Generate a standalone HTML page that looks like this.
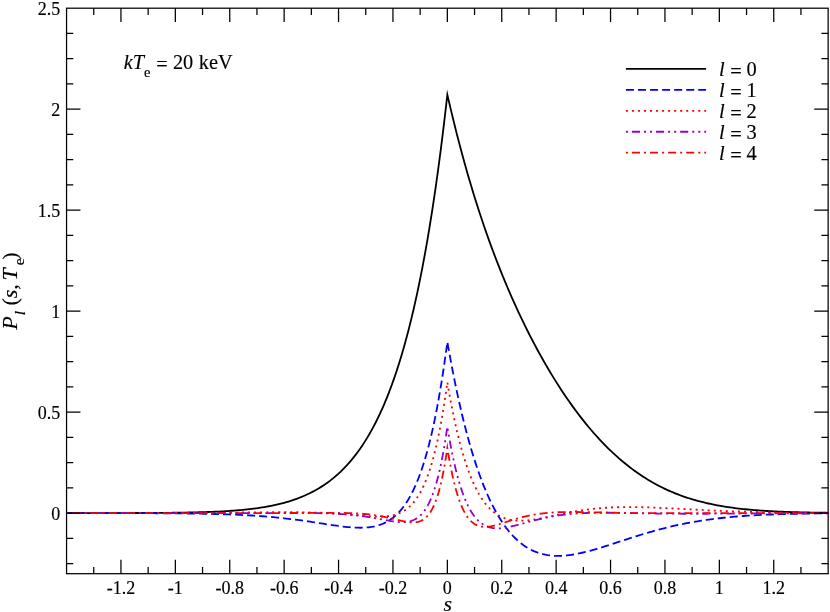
<!DOCTYPE html><html><head><meta charset="utf-8"><title>P_l(s,Te)</title><style>html,body{margin:0;padding:0;background:#fff}svg{display:block;will-change:transform}text{font-family:"Liberation Serif",serif;fill:#000;stroke:#000;stroke-width:0.15px}</style></head><body>
<svg width="830" height="612" viewBox="0 0 830 612">
<rect width="830" height="612" fill="#fff"/>
<g fill="none" stroke-width="1.8" stroke-linejoin="miter" stroke-miterlimit="10">
<path class="c0" d="M66.55,513.10 L68.73,513.09 L70.90,513.09 L73.08,513.09 L75.25,513.09 L77.43,513.09 L79.61,513.09 L81.78,513.09 L83.96,513.09 L86.13,513.09 L88.31,513.09 L90.49,513.09 L92.66,513.09 L94.84,513.08 L97.01,513.08 L99.19,513.08 L101.37,513.08 L103.54,513.08 L105.72,513.07 L107.89,513.07 L110.07,513.07 L112.25,513.07 L114.42,513.06 L116.60,513.06 L118.77,513.06 L120.95,513.05 L123.13,513.05 L125.30,513.04 L127.48,513.04 L129.65,513.03 L131.83,513.03 L134.01,513.02 L136.18,513.01 L138.36,513.01 L140.53,513.00 L142.71,512.99 L144.89,512.98 L147.06,512.97 L149.24,512.96 L151.41,512.95 L153.59,512.93 L155.77,512.92 L157.94,512.90 L160.12,512.89 L162.29,512.87 L164.47,512.85 L166.65,512.83 L168.82,512.81 L171.00,512.78 L173.17,512.76 L175.35,512.73 L177.53,512.70 L179.70,512.67 L181.88,512.64 L184.05,512.60 L186.23,512.56 L188.41,512.52 L190.58,512.48 L192.76,512.43 L194.93,512.38 L197.11,512.32 L199.29,512.26 L201.46,512.20 L203.64,512.14 L205.81,512.06 L207.99,511.99 L210.17,511.91 L212.34,511.82 L214.52,511.73 L216.69,511.63 L218.87,511.53 L221.05,511.42 L223.22,511.30 L225.40,511.17 L227.57,511.04 L229.75,510.90 L231.93,510.75 L234.10,510.59 L236.28,510.42 L238.45,510.24 L240.63,510.05 L242.81,509.84 L244.98,509.63 L247.16,509.40 L249.33,509.16 L251.51,508.90 L253.69,508.63 L255.86,508.34 L258.04,508.04 L260.21,507.72 L262.39,507.38 L264.57,507.03 L266.74,506.65 L268.92,506.25 L271.09,505.83 L273.27,505.38 L275.45,504.92 L277.62,504.42 L279.80,503.90 L281.97,503.35 L284.15,502.77 L286.33,502.16 L288.50,501.52 L290.68,500.85 L292.85,500.14 L295.03,499.39 L297.21,498.61 L299.38,497.78 L301.56,496.92 L303.73,496.01 L305.91,495.05 L308.09,494.04 L310.26,492.99 L312.44,491.88 L314.61,490.72 L316.79,489.50 L318.97,488.22 L321.14,486.88 L323.32,485.48 L325.49,484.01 L327.67,482.46 L329.85,480.85 L332.02,479.15 L334.20,477.38 L336.37,475.52 L338.55,473.58 L340.73,471.54 L342.90,469.41 L345.08,467.18 L347.25,464.85 L349.43,462.41 L351.61,459.86 L353.78,457.19 L355.96,454.39 L358.13,451.47 L360.31,448.41 L362.49,445.22 L364.66,441.88 L366.84,438.38 L369.01,434.73 L371.19,430.91 L373.37,426.91 L375.54,422.74 L377.72,418.37 L379.89,413.81 L380.98,411.44 L382.07,409.03 L383.16,406.56 L384.25,404.04 L385.33,401.46 L386.42,398.82 L387.51,396.12 L388.60,393.36 L389.69,390.54 L390.77,387.65 L391.86,384.70 L392.95,381.68 L394.04,378.59 L395.13,375.43 L396.21,372.20 L397.30,368.90 L398.39,365.52 L399.48,362.06 L400.57,358.53 L401.65,354.91 L402.74,351.21 L403.83,347.43 L404.92,343.56 L406.01,339.59 L407.09,335.54 L408.18,331.40 L409.27,327.15 L410.36,322.81 L411.45,318.37 L412.53,313.83 L413.62,309.18 L414.71,304.42 L415.80,299.55 L416.89,294.57 L417.97,289.46 L419.06,284.24 L420.15,278.90 L421.24,273.43 L422.33,267.83 L423.41,262.10 L424.50,256.23 L425.59,250.23 L426.68,244.08 L427.77,237.78 L428.85,231.33 L429.94,224.73 L431.03,217.97 L432.12,211.05 L433.21,203.96 L434.29,196.70 L435.38,189.26 L436.47,181.65 L437.56,173.85 L438.65,165.86 L439.73,157.67 L440.82,149.29 L441.91,140.70 L443.00,131.90 L444.09,122.88 L445.17,113.64 L446.26,104.33 L447.35,94.78 L448.44,99.39 L449.53,103.94 L450.61,108.58 L451.70,113.15 L452.79,117.67 L453.88,122.13 L454.97,126.53 L456.05,130.87 L457.14,135.16 L458.23,139.39 L459.32,143.57 L460.41,147.69 L461.49,151.77 L462.58,155.79 L463.67,159.77 L464.76,163.69 L465.85,167.57 L466.93,171.40 L468.02,175.18 L469.11,178.92 L470.20,182.61 L471.29,186.27 L472.37,189.87 L473.46,193.44 L474.55,196.96 L475.64,200.45 L476.73,203.89 L477.81,207.30 L478.90,210.66 L479.99,213.99 L481.08,217.28 L482.17,220.54 L483.25,223.76 L484.34,226.95 L485.43,230.10 L486.52,233.22 L487.61,236.30 L488.69,239.35 L489.78,242.37 L490.87,245.36 L491.96,248.32 L493.05,251.25 L494.13,254.14 L495.22,257.01 L496.31,259.85 L497.40,262.66 L498.49,265.45 L499.57,268.20 L500.66,270.93 L501.75,273.64 L502.84,276.31 L503.93,278.96 L505.01,281.59 L506.10,284.19 L507.19,286.77 L508.28,289.32 L509.37,291.85 L510.45,294.35 L511.54,296.84 L512.63,299.30 L513.72,301.73 L514.81,304.15 L516.98,308.92 L519.16,313.60 L521.33,318.20 L523.51,322.71 L525.69,327.15 L527.86,331.51 L530.04,335.80 L532.21,340.02 L534.39,344.16 L536.57,348.23 L538.74,352.23 L540.92,356.17 L543.09,360.03 L545.27,363.84 L547.45,367.57 L549.62,371.25 L551.80,374.86 L553.97,378.40 L556.15,381.89 L558.33,385.31 L560.50,388.68 L562.68,391.98 L564.85,395.23 L567.03,398.42 L569.21,401.55 L571.38,404.62 L573.56,407.64 L575.73,410.60 L577.91,413.50 L580.09,416.35 L582.26,419.15 L584.44,421.88 L586.61,424.57 L588.79,427.20 L590.97,429.78 L593.14,432.30 L595.32,434.77 L597.49,437.19 L599.67,439.56 L601.85,441.87 L604.02,444.14 L606.20,446.35 L608.37,448.52 L610.55,450.63 L612.73,452.69 L614.90,454.71 L617.08,456.68 L619.25,458.60 L621.43,460.47 L623.61,462.29 L625.78,464.07 L627.96,465.80 L630.13,467.49 L632.31,469.13 L634.49,470.73 L636.66,472.29 L638.84,473.80 L641.01,475.27 L643.19,476.70 L645.37,478.09 L647.54,479.43 L649.72,480.74 L651.89,482.01 L654.07,483.24 L656.25,484.43 L658.42,485.58 L660.60,486.70 L662.77,487.78 L664.95,488.83 L667.13,489.84 L669.30,490.82 L671.48,491.77 L673.65,492.68 L675.83,493.56 L678.01,494.41 L680.18,495.24 L682.36,496.03 L684.53,496.79 L686.71,497.53 L688.89,498.24 L691.06,498.92 L693.24,499.57 L695.41,500.21 L697.59,500.81 L699.77,501.40 L701.94,501.96 L704.12,502.49 L706.29,503.01 L708.47,503.50 L710.65,503.98 L712.82,504.43 L715.00,504.87 L717.17,505.28 L719.35,505.68 L721.53,506.06 L723.70,506.43 L725.88,506.78 L728.05,507.11 L730.23,507.43 L732.41,507.73 L734.58,508.02 L736.76,508.30 L738.93,508.56 L741.11,508.81 L743.29,509.05 L745.46,509.27 L747.64,509.49 L749.81,509.69 L751.99,509.89 L754.17,510.07 L756.34,510.25 L758.52,510.42 L760.69,510.57 L762.87,510.72 L765.05,510.87 L767.22,511.00 L769.40,511.13 L771.57,511.25 L773.75,511.36 L775.93,511.47 L778.10,511.57 L780.28,511.67 L782.45,511.76 L784.63,511.84 L786.81,511.92 L788.98,512.00 L791.16,512.07 L793.33,512.14 L795.51,512.20 L797.69,512.26 L799.86,512.32 L802.04,512.37 L804.21,512.42 L806.39,512.46 L808.57,512.51 L810.74,512.55 L812.92,512.59 L815.09,512.62 L817.27,512.66 L819.45,512.69 L821.62,512.72 L823.80,512.74 L825.97,512.77 L828.15,512.79" stroke="#000000" />
<path class="c1" d="M66.55,513.10 L68.73,513.10 L70.90,513.10 L73.08,513.10 L75.25,513.11 L77.43,513.11 L79.61,513.11 L81.78,513.11 L83.96,513.11 L86.13,513.11 L88.31,513.11 L90.49,513.11 L92.66,513.11 L94.84,513.11 L97.01,513.11 L99.19,513.11 L101.37,513.12 L103.54,513.12 L105.72,513.12 L107.89,513.12 L110.07,513.12 L112.25,513.13 L114.42,513.13 L116.60,513.13 L118.77,513.13 L120.95,513.14 L123.13,513.14 L125.30,513.14 L127.48,513.15 L129.65,513.15 L131.83,513.15 L134.01,513.16 L136.18,513.16 L138.36,513.17 L140.53,513.17 L142.71,513.18 L144.89,513.19 L147.06,513.20 L149.24,513.20 L151.41,513.21 L153.59,513.22 L155.77,513.23 L157.94,513.24 L160.12,513.25 L162.29,513.26 L164.47,513.28 L166.65,513.29 L168.82,513.30 L171.00,513.32 L173.17,513.34 L175.35,513.36 L177.53,513.37 L179.70,513.40 L181.88,513.42 L184.05,513.44 L186.23,513.47 L188.41,513.49 L190.58,513.52 L192.76,513.55 L194.93,513.58 L197.11,513.62 L199.29,513.65 L201.46,513.69 L203.64,513.73 L205.81,513.78 L207.99,513.82 L210.17,513.87 L212.34,513.92 L214.52,513.98 L216.69,514.03 L218.87,514.10 L221.05,514.16 L223.22,514.23 L225.40,514.30 L227.57,514.38 L229.75,514.46 L231.93,514.54 L234.10,514.63 L236.28,514.72 L238.45,514.82 L240.63,514.92 L242.81,515.03 L244.98,515.15 L247.16,515.27 L249.33,515.39 L251.51,515.52 L253.69,515.66 L255.86,515.80 L258.04,515.95 L260.21,516.11 L262.39,516.27 L264.57,516.44 L266.74,516.62 L268.92,516.80 L271.09,516.99 L273.27,517.19 L275.45,517.40 L277.62,517.61 L279.80,517.83 L281.97,518.06 L284.15,518.30 L286.33,518.55 L288.50,518.80 L290.68,519.06 L292.85,519.33 L295.03,519.60 L297.21,519.89 L299.38,520.18 L301.56,520.48 L303.73,520.78 L305.91,521.09 L308.09,521.41 L310.26,521.73 L312.44,522.05 L314.61,522.38 L316.79,522.72 L318.97,523.05 L321.14,523.39 L323.32,523.73 L325.49,524.06 L327.67,524.40 L329.85,524.73 L332.02,525.05 L334.20,525.37 L336.37,525.68 L338.55,525.98 L340.73,526.27 L342.90,526.54 L345.08,526.79 L347.25,527.02 L349.43,527.22 L351.61,527.40 L353.78,527.54 L355.96,527.65 L358.13,527.71 L360.31,527.73 L362.49,527.70 L364.66,527.62 L366.84,527.47 L369.01,527.24 L371.19,526.95 L373.37,526.56 L375.54,526.09 L377.72,525.51 L379.89,524.82 L380.98,524.43 L382.07,524.01 L383.16,523.56 L384.25,523.07 L385.33,522.54 L386.42,521.98 L387.51,521.37 L388.60,520.73 L389.69,520.04 L390.77,519.31 L391.86,518.53 L392.95,517.70 L394.04,516.82 L395.13,515.89 L396.21,514.90 L397.30,513.86 L398.39,512.76 L399.48,511.59 L400.57,510.36 L401.65,509.07 L402.74,507.70 L403.83,506.26 L404.92,504.75 L406.01,503.16 L407.09,501.48 L408.18,499.73 L409.27,497.88 L410.36,495.94 L411.45,493.91 L412.53,491.78 L413.62,489.55 L414.71,487.21 L415.80,484.76 L416.89,482.20 L417.97,479.52 L419.06,476.72 L420.15,473.79 L421.24,470.73 L422.33,467.53 L423.41,464.18 L424.50,460.69 L425.59,457.05 L426.68,453.25 L427.77,449.28 L428.85,445.15 L429.94,440.83 L431.03,436.34 L432.12,431.65 L433.21,426.77 L434.29,421.69 L435.38,416.39 L436.47,410.87 L437.56,405.13 L438.65,399.16 L439.73,392.94 L440.82,386.47 L441.91,379.74 L443.00,372.74 L444.09,365.46 L445.17,357.89 L446.26,350.03 L447.35,341.85 L448.44,348.06 L449.53,354.12 L450.61,360.05 L451.70,365.84 L452.79,371.49 L453.88,377.02 L454.97,382.41 L456.05,387.68 L457.14,392.82 L458.23,397.84 L459.32,402.74 L460.41,407.53 L461.49,412.20 L462.58,416.75 L463.67,421.20 L464.76,425.54 L465.85,429.77 L466.93,433.90 L468.02,437.92 L469.11,441.85 L470.20,445.67 L471.29,449.40 L472.37,453.04 L473.46,456.58 L474.55,460.03 L475.64,463.40 L476.73,466.67 L477.81,469.86 L478.90,472.97 L479.99,475.99 L481.08,478.94 L482.17,481.80 L483.25,484.59 L484.34,487.30 L485.43,489.94 L486.52,492.50 L487.61,494.99 L488.69,497.41 L489.78,499.76 L490.87,502.05 L491.96,504.27 L493.05,506.42 L494.13,508.51 L495.22,510.54 L496.31,512.51 L497.40,514.42 L498.49,516.27 L499.57,518.06 L500.66,519.80 L501.75,521.48 L502.84,523.11 L503.93,524.68 L505.01,526.21 L506.10,527.68 L507.19,529.11 L508.28,530.48 L509.37,531.81 L510.45,533.09 L511.54,534.32 L512.63,535.52 L513.72,536.66 L514.81,537.77 L516.98,539.85 L519.16,541.78 L521.33,543.55 L523.51,545.18 L525.69,546.66 L527.86,548.01 L530.04,549.24 L532.21,550.34 L534.39,551.32 L536.57,552.20 L538.74,552.96 L540.92,553.63 L543.09,554.20 L545.27,554.68 L547.45,555.07 L549.62,555.38 L551.80,555.62 L553.97,555.78 L556.15,555.86 L558.33,555.89 L560.50,555.85 L562.68,555.75 L564.85,555.59 L567.03,555.39 L569.21,555.13 L571.38,554.83 L573.56,554.49 L575.73,554.11 L577.91,553.69 L580.09,553.23 L582.26,552.75 L584.44,552.23 L586.61,551.69 L588.79,551.13 L590.97,550.54 L593.14,549.93 L595.32,549.30 L597.49,548.66 L599.67,548.00 L601.85,547.33 L604.02,546.65 L606.20,545.96 L608.37,545.27 L610.55,544.56 L612.73,543.86 L614.90,543.14 L617.08,542.43 L619.25,541.72 L621.43,541.00 L623.61,540.29 L625.78,539.58 L627.96,538.87 L630.13,538.17 L632.31,537.48 L634.49,536.78 L636.66,536.10 L638.84,535.42 L641.01,534.75 L643.19,534.09 L645.37,533.44 L647.54,532.80 L649.72,532.17 L651.89,531.55 L654.07,530.93 L656.25,530.34 L658.42,529.75 L660.60,529.17 L662.77,528.61 L664.95,528.05 L667.13,527.51 L669.30,526.99 L671.48,526.47 L673.65,525.97 L675.83,525.48 L678.01,525.00 L680.18,524.54 L682.36,524.09 L684.53,523.65 L686.71,523.22 L688.89,522.81 L691.06,522.40 L693.24,522.01 L695.41,521.64 L697.59,521.27 L699.77,520.92 L701.94,520.58 L704.12,520.24 L706.29,519.93 L708.47,519.62 L710.65,519.32 L712.82,519.03 L715.00,518.76 L717.17,518.49 L719.35,518.24 L721.53,517.99 L723.70,517.75 L725.88,517.52 L728.05,517.31 L730.23,517.10 L732.41,516.90 L734.58,516.70 L736.76,516.52 L738.93,516.34 L741.11,516.17 L743.29,516.01 L745.46,515.86 L747.64,515.71 L749.81,515.57 L751.99,515.43 L754.17,515.31 L756.34,515.18 L758.52,515.07 L760.69,514.96 L762.87,514.85 L765.05,514.75 L767.22,514.66 L769.40,514.57 L771.57,514.48 L773.75,514.40 L775.93,514.32 L778.10,514.25 L780.28,514.18 L782.45,514.11 L784.63,514.05 L786.81,513.99 L788.98,513.94 L791.16,513.88 L793.33,513.83 L795.51,513.79 L797.69,513.74 L799.86,513.70 L802.04,513.66 L804.21,513.63 L806.39,513.59 L808.57,513.56 L810.74,513.53 L812.92,513.50 L815.09,513.47 L817.27,513.45 L819.45,513.42 L821.62,513.40 L823.80,513.38 L825.97,513.36 L828.15,513.34" stroke="#0000ff" stroke-dasharray="8.026 4.013" stroke-dashoffset="0"/>
<path class="c2" d="M66.55,513.10 L68.73,513.10 L70.90,513.10 L73.08,513.10 L75.25,513.10 L77.43,513.10 L79.61,513.10 L81.78,513.10 L83.96,513.10 L86.13,513.09 L88.31,513.09 L90.49,513.09 L92.66,513.09 L94.84,513.09 L97.01,513.09 L99.19,513.09 L101.37,513.09 L103.54,513.09 L105.72,513.09 L107.89,513.09 L110.07,513.09 L112.25,513.09 L114.42,513.08 L116.60,513.08 L118.77,513.08 L120.95,513.08 L123.13,513.08 L125.30,513.08 L127.48,513.08 L129.65,513.07 L131.83,513.07 L134.01,513.07 L136.18,513.07 L138.36,513.06 L140.53,513.06 L142.71,513.06 L144.89,513.06 L147.06,513.05 L149.24,513.05 L151.41,513.04 L153.59,513.04 L155.77,513.04 L157.94,513.03 L160.12,513.03 L162.29,513.02 L164.47,513.02 L166.65,513.01 L168.82,513.00 L171.00,513.00 L173.17,512.99 L175.35,512.98 L177.53,512.98 L179.70,512.97 L181.88,512.96 L184.05,512.95 L186.23,512.94 L188.41,512.93 L190.58,512.92 L192.76,512.91 L194.93,512.90 L197.11,512.89 L199.29,512.88 L201.46,512.86 L203.64,512.85 L205.81,512.83 L207.99,512.82 L210.17,512.80 L212.34,512.79 L214.52,512.77 L216.69,512.76 L218.87,512.74 L221.05,512.72 L223.22,512.70 L225.40,512.68 L227.57,512.66 L229.75,512.64 L231.93,512.62 L234.10,512.60 L236.28,512.58 L238.45,512.56 L240.63,512.54 L242.81,512.51 L244.98,512.49 L247.16,512.47 L249.33,512.45 L251.51,512.42 L253.69,512.40 L255.86,512.38 L258.04,512.36 L260.21,512.34 L262.39,512.32 L264.57,512.30 L266.74,512.28 L268.92,512.26 L271.09,512.24 L273.27,512.23 L275.45,512.21 L277.62,512.20 L279.80,512.19 L281.97,512.18 L284.15,512.18 L286.33,512.18 L288.50,512.18 L290.68,512.18 L292.85,512.19 L295.03,512.20 L297.21,512.21 L299.38,512.23 L301.56,512.26 L303.73,512.29 L305.91,512.33 L308.09,512.37 L310.26,512.42 L312.44,512.47 L314.61,512.53 L316.79,512.60 L318.97,512.67 L321.14,512.76 L323.32,512.85 L325.49,512.95 L327.67,513.05 L329.85,513.17 L332.02,513.30 L334.20,513.43 L336.37,513.57 L338.55,513.72 L340.73,513.88 L342.90,514.04 L345.08,514.21 L347.25,514.39 L349.43,514.57 L351.61,514.76 L353.78,514.95 L355.96,515.15 L358.13,515.34 L360.31,515.53 L362.49,515.71 L364.66,515.89 L366.84,516.06 L369.01,516.21 L371.19,516.35 L373.37,516.46 L375.54,516.54 L377.72,516.59 L379.89,516.60 L380.98,516.58 L382.07,516.56 L383.16,516.51 L384.25,516.46 L385.33,516.38 L386.42,516.29 L387.51,516.17 L388.60,516.04 L389.69,515.88 L390.77,515.70 L391.86,515.50 L392.95,515.26 L394.04,515.00 L395.13,514.71 L396.21,514.38 L397.30,514.01 L398.39,513.61 L399.48,513.17 L400.57,512.68 L401.65,512.15 L402.74,511.57 L403.83,510.93 L404.92,510.24 L406.01,509.50 L407.09,508.69 L408.18,507.82 L409.27,506.88 L410.36,505.86 L411.45,504.77 L412.53,503.60 L413.62,502.34 L414.71,500.99 L415.80,499.54 L416.89,498.00 L417.97,496.34 L419.06,494.58 L420.15,492.69 L421.24,490.68 L422.33,488.54 L423.41,486.26 L424.50,483.84 L425.59,481.26 L426.68,478.52 L427.77,475.61 L428.85,472.53 L429.94,469.25 L431.03,465.78 L432.12,462.11 L433.21,458.21 L434.29,454.09 L435.38,449.73 L436.47,445.12 L437.56,440.25 L438.65,435.10 L439.73,429.67 L440.82,423.93 L441.91,417.87 L443.00,411.48 L444.09,404.74 L445.17,397.64 L446.26,390.15 L447.35,382.27 L448.44,388.67 L449.53,394.83 L450.61,400.77 L451.70,406.48 L452.79,411.98 L453.88,417.27 L454.97,422.36 L456.05,427.25 L457.14,431.94 L458.23,436.46 L459.32,440.79 L460.41,444.95 L461.49,448.95 L462.58,452.78 L463.67,456.45 L464.76,459.97 L465.85,463.34 L466.93,466.57 L468.02,469.66 L469.11,472.62 L470.20,475.45 L471.29,478.15 L472.37,480.73 L473.46,483.20 L474.55,485.55 L475.64,487.79 L476.73,489.93 L477.81,491.96 L478.90,493.90 L479.99,495.74 L481.08,497.49 L482.17,499.15 L483.25,500.72 L484.34,502.22 L485.43,503.63 L486.52,504.96 L487.61,506.23 L488.69,507.42 L489.78,508.54 L490.87,509.60 L491.96,510.59 L493.05,511.52 L494.13,512.39 L495.22,513.21 L496.31,513.97 L497.40,514.68 L498.49,515.34 L499.57,515.96 L500.66,516.52 L501.75,517.04 L502.84,517.52 L503.93,517.96 L505.01,518.36 L506.10,518.72 L507.19,519.05 L508.28,519.34 L509.37,519.60 L510.45,519.83 L511.54,520.03 L512.63,520.20 L513.72,520.34 L514.81,520.46 L516.98,520.63 L519.16,520.70 L521.33,520.70 L523.51,520.63 L525.69,520.49 L527.86,520.29 L530.04,520.05 L532.21,519.77 L534.39,519.44 L536.57,519.09 L538.74,518.70 L540.92,518.30 L543.09,517.88 L545.27,517.44 L547.45,516.99 L549.62,516.54 L551.80,516.08 L553.97,515.61 L556.15,515.15 L558.33,514.69 L560.50,514.24 L562.68,513.80 L564.85,513.36 L567.03,512.93 L569.21,512.52 L571.38,512.11 L573.56,511.72 L575.73,511.34 L577.91,510.98 L580.09,510.64 L582.26,510.31 L584.44,509.99 L586.61,509.70 L588.79,509.42 L590.97,509.15 L593.14,508.91 L595.32,508.68 L597.49,508.46 L599.67,508.27 L601.85,508.09 L604.02,507.92 L606.20,507.77 L608.37,507.64 L610.55,507.52 L612.73,507.42 L614.90,507.33 L617.08,507.25 L619.25,507.19 L621.43,507.14 L623.61,507.11 L625.78,507.08 L627.96,507.07 L630.13,507.06 L632.31,507.07 L634.49,507.09 L636.66,507.11 L638.84,507.15 L641.01,507.19 L643.19,507.24 L645.37,507.30 L647.54,507.36 L649.72,507.43 L651.89,507.51 L654.07,507.59 L656.25,507.68 L658.42,507.77 L660.60,507.87 L662.77,507.96 L664.95,508.07 L667.13,508.17 L669.30,508.28 L671.48,508.38 L673.65,508.50 L675.83,508.61 L678.01,508.72 L680.18,508.83 L682.36,508.95 L684.53,509.06 L686.71,509.18 L688.89,509.29 L691.06,509.41 L693.24,509.52 L695.41,509.63 L697.59,509.74 L699.77,509.85 L701.94,509.96 L704.12,510.07 L706.29,510.17 L708.47,510.28 L710.65,510.38 L712.82,510.48 L715.00,510.58 L717.17,510.68 L719.35,510.77 L721.53,510.86 L723.70,510.95 L725.88,511.04 L728.05,511.13 L730.23,511.21 L732.41,511.29 L734.58,511.37 L736.76,511.44 L738.93,511.52 L741.11,511.59 L743.29,511.66 L745.46,511.72 L747.64,511.79 L749.81,511.85 L751.99,511.91 L754.17,511.97 L756.34,512.02 L758.52,512.08 L760.69,512.13 L762.87,512.18 L765.05,512.23 L767.22,512.27 L769.40,512.31 L771.57,512.36 L773.75,512.40 L775.93,512.43 L778.10,512.47 L780.28,512.50 L782.45,512.54 L784.63,512.57 L786.81,512.60 L788.98,512.63 L791.16,512.66 L793.33,512.68 L795.51,512.71 L797.69,512.73 L799.86,512.75 L802.04,512.77 L804.21,512.79 L806.39,512.81 L808.57,512.83 L810.74,512.85 L812.92,512.86 L815.09,512.88 L817.27,512.89 L819.45,512.91 L821.62,512.92 L823.80,512.93 L825.97,512.94 L828.15,512.95" stroke="#ff0000" stroke-dasharray="2.016 4.032" stroke-dashoffset="0"/>
<path class="c3" d="M66.55,513.10 L68.73,513.10 L70.90,513.10 L73.08,513.10 L75.25,513.10 L77.43,513.10 L79.61,513.10 L81.78,513.10 L83.96,513.10 L86.13,513.10 L88.31,513.10 L90.49,513.10 L92.66,513.10 L94.84,513.10 L97.01,513.10 L99.19,513.10 L101.37,513.10 L103.54,513.10 L105.72,513.10 L107.89,513.10 L110.07,513.10 L112.25,513.11 L114.42,513.11 L116.60,513.11 L118.77,513.11 L120.95,513.11 L123.13,513.11 L125.30,513.11 L127.48,513.11 L129.65,513.11 L131.83,513.11 L134.01,513.11 L136.18,513.11 L138.36,513.11 L140.53,513.11 L142.71,513.11 L144.89,513.11 L147.06,513.11 L149.24,513.12 L151.41,513.12 L153.59,513.12 L155.77,513.12 L157.94,513.12 L160.12,513.12 L162.29,513.12 L164.47,513.12 L166.65,513.12 L168.82,513.13 L171.00,513.13 L173.17,513.13 L175.35,513.13 L177.53,513.13 L179.70,513.13 L181.88,513.13 L184.05,513.13 L186.23,513.13 L188.41,513.14 L190.58,513.14 L192.76,513.14 L194.93,513.14 L197.11,513.14 L199.29,513.14 L201.46,513.14 L203.64,513.14 L205.81,513.14 L207.99,513.15 L210.17,513.15 L212.34,513.15 L214.52,513.15 L216.69,513.15 L218.87,513.15 L221.05,513.15 L223.22,513.15 L225.40,513.15 L227.57,513.15 L229.75,513.15 L231.93,513.14 L234.10,513.14 L236.28,513.14 L238.45,513.14 L240.63,513.14 L242.81,513.14 L244.98,513.13 L247.16,513.13 L249.33,513.13 L251.51,513.12 L253.69,513.12 L255.86,513.11 L258.04,513.11 L260.21,513.10 L262.39,513.10 L264.57,513.09 L266.74,513.09 L268.92,513.08 L271.09,513.08 L273.27,513.07 L275.45,513.07 L277.62,513.06 L279.80,513.05 L281.97,513.05 L284.15,513.04 L286.33,513.04 L288.50,513.04 L290.68,513.03 L292.85,513.03 L295.03,513.03 L297.21,513.04 L299.38,513.04 L301.56,513.05 L303.73,513.05 L305.91,513.06 L308.09,513.08 L310.26,513.10 L312.44,513.12 L314.61,513.15 L316.79,513.18 L318.97,513.21 L321.14,513.26 L323.32,513.31 L325.49,513.36 L327.67,513.43 L329.85,513.50 L332.02,513.59 L334.20,513.68 L336.37,513.79 L338.55,513.90 L340.73,514.03 L342.90,514.17 L345.08,514.33 L347.25,514.50 L349.43,514.69 L351.61,514.89 L353.78,515.11 L355.96,515.35 L358.13,515.61 L360.31,515.88 L362.49,516.17 L364.66,516.48 L366.84,516.81 L369.01,517.15 L371.19,517.51 L373.37,517.88 L375.54,518.27 L377.72,518.67 L379.89,519.07 L380.98,519.28 L382.07,519.48 L383.16,519.68 L384.25,519.89 L385.33,520.09 L386.42,520.29 L387.51,520.48 L388.60,520.67 L389.69,520.86 L390.77,521.03 L391.86,521.21 L392.95,521.37 L394.04,521.52 L395.13,521.66 L396.21,521.78 L397.30,521.89 L398.39,521.99 L399.48,522.06 L400.57,522.11 L401.65,522.14 L402.74,522.14 L403.83,522.11 L404.92,522.05 L406.01,521.95 L407.09,521.82 L408.18,521.64 L409.27,521.42 L410.36,521.14 L411.45,520.81 L412.53,520.43 L413.62,519.98 L414.71,519.46 L415.80,518.86 L416.89,518.18 L417.97,517.42 L419.06,516.56 L420.15,515.61 L421.24,514.54 L422.33,513.36 L423.41,512.05 L424.50,510.61 L425.59,509.03 L426.68,507.29 L427.77,505.39 L428.85,503.32 L429.94,501.06 L431.03,498.60 L432.12,495.92 L433.21,493.02 L434.29,489.87 L435.38,486.47 L436.47,482.80 L437.56,478.83 L438.65,474.55 L439.73,469.94 L440.82,464.98 L441.91,459.65 L443.00,453.92 L444.09,447.77 L445.17,441.18 L446.26,434.11 L447.35,426.55 L448.44,433.16 L449.53,439.43 L450.61,445.38 L451.70,451.01 L452.79,456.34 L453.88,461.39 L454.97,466.16 L456.05,470.67 L457.14,474.92 L458.23,478.93 L459.32,482.72 L460.41,486.28 L461.49,489.63 L462.58,492.78 L463.67,495.73 L464.76,498.51 L465.85,501.11 L466.93,503.54 L468.02,505.81 L469.11,507.93 L470.20,509.90 L471.29,511.74 L472.37,513.44 L473.46,515.02 L474.55,516.48 L475.64,517.83 L476.73,519.07 L477.81,520.21 L478.90,521.26 L479.99,522.21 L481.08,523.07 L482.17,523.86 L483.25,524.56 L484.34,525.19 L485.43,525.76 L486.52,526.25 L487.61,526.69 L488.69,527.07 L489.78,527.39 L490.87,527.66 L491.96,527.88 L493.05,528.06 L494.13,528.19 L495.22,528.29 L496.31,528.35 L497.40,528.37 L498.49,528.36 L499.57,528.32 L500.66,528.26 L501.75,528.16 L502.84,528.05 L503.93,527.91 L505.01,527.75 L506.10,527.57 L507.19,527.38 L508.28,527.17 L509.37,526.95 L510.45,526.71 L511.54,526.47 L512.63,526.21 L513.72,525.94 L514.81,525.67 L516.98,525.10 L519.16,524.52 L521.33,523.92 L523.51,523.32 L525.69,522.71 L527.86,522.11 L530.04,521.51 L532.21,520.93 L534.39,520.36 L536.57,519.80 L538.74,519.27 L540.92,518.75 L543.09,518.25 L545.27,517.78 L547.45,517.33 L549.62,516.90 L551.80,516.50 L553.97,516.12 L556.15,515.77 L558.33,515.43 L560.50,515.13 L562.68,514.84 L564.85,514.58 L567.03,514.33 L569.21,514.11 L571.38,513.91 L573.56,513.73 L575.73,513.57 L577.91,513.42 L580.09,513.30 L582.26,513.18 L584.44,513.09 L586.61,513.00 L588.79,512.93 L590.97,512.87 L593.14,512.83 L595.32,512.79 L597.49,512.76 L599.67,512.75 L601.85,512.74 L604.02,512.73 L606.20,512.74 L608.37,512.75 L610.55,512.77 L612.73,512.79 L614.90,512.81 L617.08,512.84 L619.25,512.87 L621.43,512.90 L623.61,512.94 L625.78,512.98 L627.96,513.02 L630.13,513.06 L632.31,513.10 L634.49,513.14 L636.66,513.18 L638.84,513.22 L641.01,513.26 L643.19,513.29 L645.37,513.33 L647.54,513.37 L649.72,513.40 L651.89,513.44 L654.07,513.47 L656.25,513.50 L658.42,513.53 L660.60,513.55 L662.77,513.58 L664.95,513.60 L667.13,513.63 L669.30,513.65 L671.48,513.66 L673.65,513.68 L675.83,513.69 L678.01,513.71 L680.18,513.72 L682.36,513.73 L684.53,513.73 L686.71,513.74 L688.89,513.74 L691.06,513.75 L693.24,513.75 L695.41,513.75 L697.59,513.75 L699.77,513.74 L701.94,513.74 L704.12,513.73 L706.29,513.73 L708.47,513.72 L710.65,513.71 L712.82,513.71 L715.00,513.70 L717.17,513.69 L719.35,513.68 L721.53,513.66 L723.70,513.65 L725.88,513.64 L728.05,513.63 L730.23,513.62 L732.41,513.60 L734.58,513.59 L736.76,513.58 L738.93,513.56 L741.11,513.55 L743.29,513.54 L745.46,513.52 L747.64,513.51 L749.81,513.49 L751.99,513.48 L754.17,513.47 L756.34,513.45 L758.52,513.44 L760.69,513.43 L762.87,513.42 L765.05,513.40 L767.22,513.39 L769.40,513.38 L771.57,513.37 L773.75,513.36 L775.93,513.34 L778.10,513.33 L780.28,513.32 L782.45,513.31 L784.63,513.30 L786.81,513.29 L788.98,513.28 L791.16,513.28 L793.33,513.27 L795.51,513.26 L797.69,513.25 L799.86,513.24 L802.04,513.24 L804.21,513.23 L806.39,513.22 L808.57,513.21 L810.74,513.21 L812.92,513.20 L815.09,513.20 L817.27,513.19 L819.45,513.19 L821.62,513.18 L823.80,513.18 L825.97,513.17 L828.15,513.17" stroke="#9400d3" stroke-dasharray="8.045 4.022 2.011 4.022 2.011 4.022" stroke-dashoffset="18.1"/>
<path class="c4" d="M66.55,513.10 L68.73,513.10 L70.90,513.10 L73.08,513.10 L75.25,513.10 L77.43,513.10 L79.61,513.10 L81.78,513.10 L83.96,513.10 L86.13,513.10 L88.31,513.10 L90.49,513.10 L92.66,513.10 L94.84,513.10 L97.01,513.10 L99.19,513.10 L101.37,513.10 L103.54,513.10 L105.72,513.10 L107.89,513.10 L110.07,513.10 L112.25,513.10 L114.42,513.10 L116.60,513.10 L118.77,513.10 L120.95,513.10 L123.13,513.10 L125.30,513.10 L127.48,513.10 L129.65,513.10 L131.83,513.10 L134.01,513.10 L136.18,513.10 L138.36,513.10 L140.53,513.10 L142.71,513.10 L144.89,513.10 L147.06,513.10 L149.24,513.10 L151.41,513.10 L153.59,513.10 L155.77,513.10 L157.94,513.10 L160.12,513.10 L162.29,513.10 L164.47,513.10 L166.65,513.10 L168.82,513.10 L171.00,513.10 L173.17,513.10 L175.35,513.10 L177.53,513.10 L179.70,513.10 L181.88,513.10 L184.05,513.10 L186.23,513.10 L188.41,513.10 L190.58,513.10 L192.76,513.10 L194.93,513.10 L197.11,513.10 L199.29,513.10 L201.46,513.10 L203.64,513.10 L205.81,513.10 L207.99,513.10 L210.17,513.10 L212.34,513.11 L214.52,513.11 L216.69,513.11 L218.87,513.11 L221.05,513.11 L223.22,513.11 L225.40,513.11 L227.57,513.11 L229.75,513.11 L231.93,513.11 L234.10,513.11 L236.28,513.11 L238.45,513.11 L240.63,513.11 L242.81,513.11 L244.98,513.11 L247.16,513.11 L249.33,513.10 L251.51,513.10 L253.69,513.10 L255.86,513.10 L258.04,513.10 L260.21,513.09 L262.39,513.09 L264.57,513.09 L266.74,513.08 L268.92,513.08 L271.09,513.07 L273.27,513.07 L275.45,513.06 L277.62,513.06 L279.80,513.05 L281.97,513.04 L284.15,513.03 L286.33,513.02 L288.50,513.01 L290.68,513.00 L292.85,512.99 L295.03,512.98 L297.21,512.97 L299.38,512.95 L301.56,512.94 L303.73,512.93 L305.91,512.91 L308.09,512.90 L310.26,512.88 L312.44,512.87 L314.61,512.86 L316.79,512.85 L318.97,512.83 L321.14,512.82 L323.32,512.82 L325.49,512.81 L327.67,512.81 L329.85,512.81 L332.02,512.81 L334.20,512.82 L336.37,512.84 L338.55,512.86 L340.73,512.89 L342.90,512.92 L345.08,512.97 L347.25,513.03 L349.43,513.09 L351.61,513.17 L353.78,513.27 L355.96,513.38 L358.13,513.51 L360.31,513.65 L362.49,513.82 L364.66,514.00 L366.84,514.21 L369.01,514.44 L371.19,514.70 L373.37,514.99 L375.54,515.30 L377.72,515.64 L379.89,516.01 L380.98,516.20 L382.07,516.40 L383.16,516.61 L384.25,516.83 L385.33,517.05 L386.42,517.28 L387.51,517.51 L388.60,517.75 L389.69,517.99 L390.77,518.24 L391.86,518.49 L392.95,518.75 L394.04,519.01 L395.13,519.27 L396.21,519.53 L397.30,519.79 L398.39,520.05 L399.48,520.30 L400.57,520.55 L401.65,520.80 L402.74,521.03 L403.83,521.26 L404.92,521.47 L406.01,521.67 L407.09,521.85 L408.18,522.00 L409.27,522.14 L410.36,522.24 L411.45,522.32 L412.53,522.36 L413.62,522.35 L414.71,522.30 L415.80,522.20 L416.89,522.05 L417.97,521.83 L419.06,521.53 L420.15,521.16 L421.24,520.71 L422.33,520.16 L423.41,519.50 L424.50,518.74 L425.59,517.84 L426.68,516.81 L427.77,515.63 L428.85,514.29 L429.94,512.78 L431.03,511.07 L432.12,509.15 L433.21,507.00 L434.29,504.61 L435.38,501.96 L436.47,499.02 L437.56,495.76 L438.65,492.17 L439.73,488.23 L440.82,483.89 L441.91,479.13 L443.00,473.92 L444.09,468.22 L445.17,462.00 L446.26,455.22 L447.35,447.84 L448.44,454.52 L449.53,460.76 L450.61,466.58 L451.70,471.99 L452.79,477.03 L453.88,481.71 L454.97,486.05 L456.05,490.07 L457.14,493.79 L458.23,497.22 L459.32,500.39 L460.41,503.30 L461.49,505.97 L462.58,508.42 L463.67,510.67 L464.76,512.71 L465.85,514.56 L466.93,516.25 L468.02,517.76 L469.11,519.13 L470.20,520.35 L471.29,521.44 L472.37,522.40 L473.46,523.25 L474.55,523.99 L475.64,524.62 L476.73,525.16 L477.81,525.62 L478.90,525.99 L479.99,526.29 L481.08,526.52 L482.17,526.69 L483.25,526.80 L484.34,526.85 L485.43,526.86 L486.52,526.82 L487.61,526.74 L488.69,526.62 L489.78,526.47 L490.87,526.28 L491.96,526.07 L493.05,525.84 L494.13,525.59 L495.22,525.31 L496.31,525.02 L497.40,524.72 L498.49,524.40 L499.57,524.07 L500.66,523.74 L501.75,523.40 L502.84,523.05 L503.93,522.70 L505.01,522.34 L506.10,521.99 L507.19,521.63 L508.28,521.28 L509.37,520.93 L510.45,520.58 L511.54,520.23 L512.63,519.89 L513.72,519.55 L514.81,519.22 L516.98,518.58 L519.16,517.96 L521.33,517.37 L523.51,516.81 L525.69,516.29 L527.86,515.80 L530.04,515.35 L532.21,514.93 L534.39,514.54 L536.57,514.19 L538.74,513.86 L540.92,513.57 L543.09,513.31 L545.27,513.08 L547.45,512.88 L549.62,512.70 L551.80,512.54 L553.97,512.41 L556.15,512.30 L558.33,512.21 L560.50,512.14 L562.68,512.08 L564.85,512.04 L567.03,512.01 L569.21,511.99 L571.38,511.99 L573.56,511.99 L575.73,512.00 L577.91,512.02 L580.09,512.05 L582.26,512.08 L584.44,512.12 L586.61,512.16 L588.79,512.21 L590.97,512.25 L593.14,512.30 L595.32,512.35 L597.49,512.40 L599.67,512.45 L601.85,512.50 L604.02,512.55 L606.20,512.60 L608.37,512.64 L610.55,512.69 L612.73,512.73 L614.90,512.77 L617.08,512.81 L619.25,512.85 L621.43,512.89 L623.61,512.92 L625.78,512.95 L627.96,512.98 L630.13,513.01 L632.31,513.04 L634.49,513.06 L636.66,513.08 L638.84,513.10 L641.01,513.11 L643.19,513.13 L645.37,513.14 L647.54,513.15 L649.72,513.16 L651.89,513.17 L654.07,513.18 L656.25,513.18 L658.42,513.19 L660.60,513.19 L662.77,513.19 L664.95,513.19 L667.13,513.19 L669.30,513.19 L671.48,513.19 L673.65,513.18 L675.83,513.18 L678.01,513.18 L680.18,513.17 L682.36,513.17 L684.53,513.16 L686.71,513.16 L688.89,513.15 L691.06,513.15 L693.24,513.14 L695.41,513.14 L697.59,513.13 L699.77,513.13 L701.94,513.12 L704.12,513.12 L706.29,513.11 L708.47,513.11 L710.65,513.10 L712.82,513.10 L715.00,513.09 L717.17,513.09 L719.35,513.08 L721.53,513.08 L723.70,513.08 L725.88,513.07 L728.05,513.07 L730.23,513.07 L732.41,513.06 L734.58,513.06 L736.76,513.06 L738.93,513.06 L741.11,513.06 L743.29,513.05 L745.46,513.05 L747.64,513.05 L749.81,513.05 L751.99,513.05 L754.17,513.05 L756.34,513.05 L758.52,513.05 L760.69,513.05 L762.87,513.05 L765.05,513.05 L767.22,513.05 L769.40,513.05 L771.57,513.05 L773.75,513.05 L775.93,513.05 L778.10,513.05 L780.28,513.05 L782.45,513.06 L784.63,513.06 L786.81,513.06 L788.98,513.06 L791.16,513.06 L793.33,513.06 L795.51,513.06 L797.69,513.06 L799.86,513.06 L802.04,513.07 L804.21,513.07 L806.39,513.07 L808.57,513.07 L810.74,513.07 L812.92,513.07 L815.09,513.07 L817.27,513.07 L819.45,513.08 L821.62,513.08 L823.80,513.08 L825.97,513.08 L828.15,513.08" stroke="#ff0000" stroke-dasharray="8.043 4.022 2.011 4.022" stroke-dashoffset="12.06"/>
</g>
<g stroke="#000" stroke-width="1.25" fill="none">
<rect x="66.55" y="8.20" width="761.60" height="565.49"/>
<path d="M93.75,573.69v-6.70 M93.75,8.20v6.70 M120.95,573.69v-13.90 M120.95,8.20v13.90 M148.15,573.69v-6.70 M148.15,8.20v6.70 M175.35,573.69v-13.90 M175.35,8.20v13.90 M202.55,573.69v-6.70 M202.55,8.20v6.70 M229.75,573.69v-13.90 M229.75,8.20v13.90 M256.95,573.69v-6.70 M256.95,8.20v6.70 M284.15,573.69v-13.90 M284.15,8.20v13.90 M311.35,573.69v-6.70 M311.35,8.20v6.70 M338.55,573.69v-13.90 M338.55,8.20v13.90 M365.75,573.69v-6.70 M365.75,8.20v6.70 M392.95,573.69v-13.90 M392.95,8.20v13.90 M420.15,573.69v-6.70 M420.15,8.20v6.70 M447.35,573.69v-13.90 M447.35,8.20v13.90 M474.55,573.69v-6.70 M474.55,8.20v6.70 M501.75,573.69v-13.90 M501.75,8.20v13.90 M528.95,573.69v-6.70 M528.95,8.20v6.70 M556.15,573.69v-13.90 M556.15,8.20v13.90 M583.35,573.69v-6.70 M583.35,8.20v6.70 M610.55,573.69v-13.90 M610.55,8.20v13.90 M637.75,573.69v-6.70 M637.75,8.20v6.70 M664.95,573.69v-13.90 M664.95,8.20v13.90 M692.15,573.69v-6.70 M692.15,8.20v6.70 M719.35,573.69v-13.90 M719.35,8.20v13.90 M746.55,573.69v-6.70 M746.55,8.20v6.70 M773.75,573.69v-13.90 M773.75,8.20v13.90 M800.95,573.69v-6.70 M800.95,8.20v6.70 M66.55,563.59h6.70 M828.15,563.59h-6.70 M66.55,538.35h6.70 M828.15,538.35h-6.70 M66.55,513.10h13.90 M828.15,513.10h-13.90 M66.55,487.86h6.70 M828.15,487.86h-6.70 M66.55,462.61h6.70 M828.15,462.61h-6.70 M66.55,437.37h6.70 M828.15,437.37h-6.70 M66.55,412.12h13.90 M828.15,412.12h-13.90 M66.55,386.88h6.70 M828.15,386.88h-6.70 M66.55,361.63h6.70 M828.15,361.63h-6.70 M66.55,336.38h6.70 M828.15,336.38h-6.70 M66.55,311.14h13.90 M828.15,311.14h-13.90 M66.55,285.89h6.70 M828.15,285.89h-6.70 M66.55,260.65h6.70 M828.15,260.65h-6.70 M66.55,235.41h6.70 M828.15,235.41h-6.70 M66.55,210.16h13.90 M828.15,210.16h-13.90 M66.55,184.92h6.70 M828.15,184.92h-6.70 M66.55,159.67h6.70 M828.15,159.67h-6.70 M66.55,134.43h6.70 M828.15,134.43h-6.70 M66.55,109.18h13.90 M828.15,109.18h-13.90 M66.55,83.94h6.70 M828.15,83.94h-6.70 M66.55,58.69h6.70 M828.15,58.69h-6.70 M66.55,33.44h6.70 M828.15,33.44h-6.70"/>
</g>
<g font-size="18">
<text x="120.95" y="593.7" text-anchor="middle">-1.2</text>
<text x="175.35" y="593.7" text-anchor="middle">-1</text>
<text x="229.75" y="593.7" text-anchor="middle">-0.8</text>
<text x="284.15" y="593.7" text-anchor="middle">-0.6</text>
<text x="338.55" y="593.7" text-anchor="middle">-0.4</text>
<text x="392.95" y="593.7" text-anchor="middle">-0.2</text>
<text x="447.35" y="593.7" text-anchor="middle">0</text>
<text x="501.75" y="593.7" text-anchor="middle">0.2</text>
<text x="556.15" y="593.7" text-anchor="middle">0.4</text>
<text x="610.55" y="593.7" text-anchor="middle">0.6</text>
<text x="664.95" y="593.7" text-anchor="middle">0.8</text>
<text x="719.35" y="593.7" text-anchor="middle">1</text>
<text x="773.75" y="593.7" text-anchor="middle">1.2</text>
<text x="60.3" y="520.30" text-anchor="end">0</text>
<text x="60.3" y="419.32" text-anchor="end">0.5</text>
<text x="60.3" y="318.34" text-anchor="end">1</text>
<text x="60.3" y="217.36" text-anchor="end">1.5</text>
<text x="60.3" y="116.38" text-anchor="end">2</text>
<text x="60.3" y="15.40" text-anchor="end">2.5</text>
</g>
<text x="447.7" y="610.7" font-size="22" font-style="italic" text-anchor="middle">s</text>
<text transform="translate(16.9,329.8) rotate(-90)" font-size="22"><tspan font-style="italic">P</tspan><tspan font-style="italic" font-size="15.5" dy="8.2" dx="1">l</tspan><tspan dy="-8.2"> (</tspan><tspan font-style="italic">s</tspan>, <tspan font-style="italic" dx="-1.8">T</tspan><tspan font-size="15.5" dy="7.2" dx="3.0">e</tspan><tspan dy="-7.2" dx="-1.4">)</tspan></text>
<text x="123.7" y="69" font-size="20.3"><tspan font-style="italic">kT</tspan><tspan font-size="14.5" dy="7.8" dx="0.1">e</tspan><tspan dy="-5.8" dx="0.6"> =</tspan><tspan dy="-2" dx="0.2"> 20</tspan><tspan dx="0.5"> keV</tspan></text>
<g fill="none" stroke-width="1.8">
<path d="M625.9,68.90H706.1" stroke="#000000" />
<path d="M625.9,89.85H706.1" stroke="#0000ff" stroke-dasharray="8.04 4.02" stroke-dashoffset="0"/>
<path d="M625.9,110.80H706.1" stroke="#ff0000" stroke-dasharray="2.01 4.02" stroke-dashoffset="0"/>
<path d="M625.9,131.75H706.1" stroke="#9400d3" stroke-dasharray="8.04 4.02 2.01 4.02 2.01 4.02" stroke-dashoffset="18.09"/>
<path d="M625.9,152.70H706.1" stroke="#ff0000" stroke-dasharray="8.04 4.02 2.01 4.02" stroke-dashoffset="12.06"/>
</g>
<g font-size="20.4">
<text x="719" y="76.20"><tspan font-style="italic">l</tspan><tspan dy="2" dx="0.5"> =</tspan><tspan dy="-2" dx="-0.3"> 0</tspan></text>
<text x="719" y="97.15"><tspan font-style="italic">l</tspan><tspan dy="2" dx="0.5"> =</tspan><tspan dy="-2" dx="-0.3"> 1</tspan></text>
<text x="719" y="118.10"><tspan font-style="italic">l</tspan><tspan dy="2" dx="0.5"> =</tspan><tspan dy="-2" dx="-0.3"> 2</tspan></text>
<text x="719" y="139.05"><tspan font-style="italic">l</tspan><tspan dy="2" dx="0.5"> =</tspan><tspan dy="-2" dx="-0.3"> 3</tspan></text>
<text x="719" y="160.00"><tspan font-style="italic">l</tspan><tspan dy="2" dx="0.5"> =</tspan><tspan dy="-2" dx="-0.3"> 4</tspan></text>
</g>
</svg></body></html>
